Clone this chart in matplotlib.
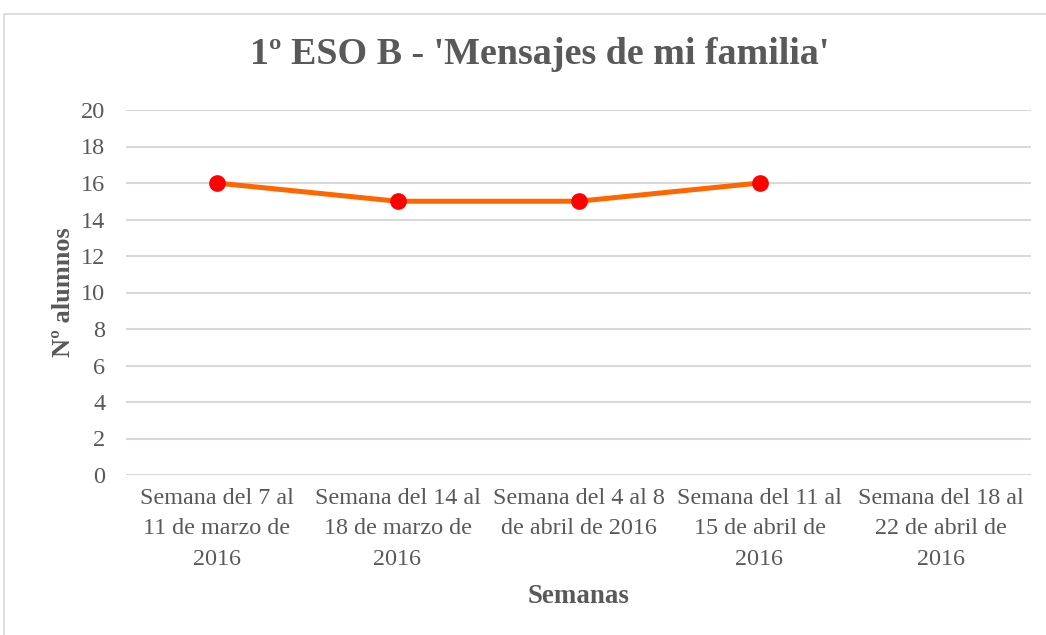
import matplotlib
matplotlib.use("Agg")
import matplotlib.pyplot as plt
from matplotlib.patches import Rectangle
import numpy as np

categories = [
    "Semana del 7 al\n11 de marzo de\n2016",
    "Semana del 14 al\n18 de marzo de\n2016",
    "Semana del 4 al 8\nde abril de 2016",
    "Semana del 11 al\n15 de abril de\n2016",
    "Semana del 18 al\n22 de abril de\n2016",
]
values = [16, 15, 15, 16, np.nan]
yticks = [0, 2, 4, 6, 8, 10, 12, 14, 16, 18, 20]

plt.rcParams['font.family'] = ['Liberation Serif', 'DejaVu Serif']
gray = '#595959'

fig = plt.figure(figsize=(10.46, 6.35), dpi=100)
ax = fig.add_axes([126/1046, 1-475/635, (1031-126)/1046, (475-110)/635])

# chart border
fig.patches.append(Rectangle((4/1046, -0.1), 1.2, 1 - 14/635 + 0.1, transform=fig.transFigure,
                             fill=False, edgecolor='#D9D9D9', linewidth=1.2, clip_on=False))

x = np.arange(len(categories))
ax.plot(x, values, color='#FF6600', linewidth=3.6, solid_capstyle='round', zorder=3)
ax.plot(x, values, linestyle='none', marker='o', markersize=11, color='#FF0000',
        markeredgecolor='#FF0000', zorder=4)

ax.set_xlim(-0.5, len(categories) - 0.5)
ax.set_ylim(0, 20)
ax.set_yticks(yticks)
ax.set_xticks(x)
ax.set_xticklabels(categories, fontsize=17.4, color=gray, linespacing=1.62)
ax.tick_params(axis='y', labelsize=17.5, labelcolor=gray, length=0, pad=15)
ax.tick_params(axis='x', length=0, pad=9)
ax.grid(axis='y', color='#D9D9D9', linewidth=1.5)
ax.set_axisbelow(True)
for s in ax.spines.values():
    s.set_visible(False)

ax.set_ylabel("Nº alumnos", fontsize=19, fontweight='bold', color=gray, labelpad=4)
ax.set_xlabel("Semanas", fontsize=19.4, fontweight='bold', color=gray, labelpad=10)
fig.text(540/1046, 1-55/635, "1º ESO B - 'Mensajes de mi familia'", fontsize=27.4,
         fontweight='bold', color=gray, ha='center', va='center')

fig.savefig("out.png", dpi=100)
